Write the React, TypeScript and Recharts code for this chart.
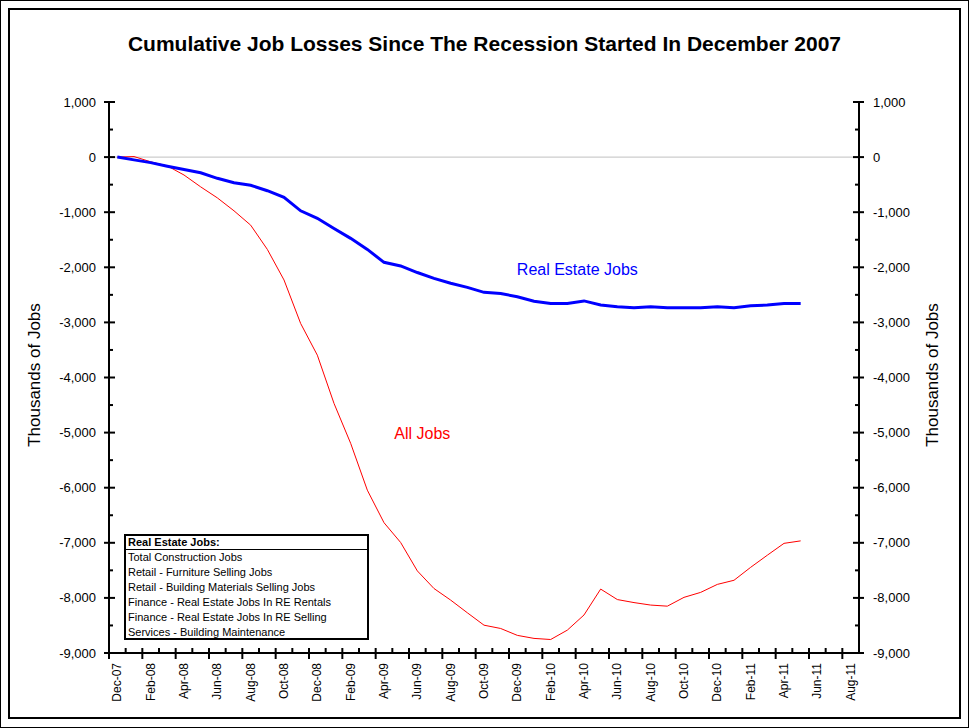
import React from "react";
import { LineChart, Line, XAxis, YAxis, ReferenceLine, ReferenceDot } from "recharts";

const months = [
  "Dec-07", "Jan-08", "Feb-08", "Mar-08", "Apr-08", "May-08", "Jun-08", "Jul-08", "Aug-08", "Sep-08",
  "Oct-08", "Nov-08", "Dec-08", "Jan-09", "Feb-09", "Mar-09", "Apr-09", "May-09", "Jun-09", "Jul-09",
  "Aug-09", "Sep-09", "Oct-09", "Nov-09", "Dec-09", "Jan-10", "Feb-10", "Mar-10", "Apr-10", "May-10",
  "Jun-10", "Jul-10", "Aug-10", "Sep-10", "Oct-10", "Nov-10", "Dec-10", "Jan-11", "Feb-11", "Mar-11",
  "Apr-11", "May-11", "Jun-11", "Jul-11", "Aug-11",
];

// thousands of jobs, cumulative since Dec-07
const realEstateJobs = [
  0, -50, -100, -165, -225, -285, -385, -465, -510, -610,
  -730, -975, -1110, -1295, -1475, -1675, -1910, -1975, -2095, -2200,
  -2290, -2365, -2455, -2475, -2535, -2615, -2655, -2655, -2610, -2685,
  -2715, -2735, -2715, -2735, -2735, -2735, -2715, -2735, -2700, -2685,
  -2655, -2655,
];

const allJobs = [
  0, 10, -85, -160, -325, -540, -740, -975, -1235, -1675,
  -2230, -3020, -3595, -4470, -5195, -6045, -6635, -6995, -7510, -7830,
  -8040, -8270, -8495, -8555, -8680, -8735, -8755, -8585, -8310, -7840,
  -8030, -8085, -8130, -8150, -7990, -7900, -7755, -7680, -7445, -7225,
  -7010, -6965,
];

const yTicks = [
  1000, 500, 0, -500, -1000, -1500, -2000, -2500, -3000, -3500, -4000, -4500, -5000,
  -5500, -6000, -6500, -7000, -7500, -8000, -8500, -9000,
];

const legendLines = [
  "Total Construction Jobs",
  "Retail - Furniture Selling Jobs",
  "Retail - Building Materials Selling Jobs",
  "Finance - Real Estate Jobs In RE Rentals",
  "Finance - Real Estate Jobs In RE Selling",
  "Services - Building Maintenance",
];

const data = realEstateJobs.map((v, i) => ({
  idx: i,
  month: months[i],
  realEstate: v,
  all: allJobs[i],
}));

const FONT = '"Liberation Sans", Arial, sans-serif';
const PLOT_LEFT = 109;
const PLOT_RIGHT = 859;
const PLOT_TOP = 102;
const PLOT_BOTTOM = 653;
const BAND = (PLOT_RIGHT - PLOT_LEFT) / months.length;

const fmt = (v: number) => v.toLocaleString("en-US");

function LeftTick({ x, y, payload }: any) {
  const v = payload.value;
  const major = v % 1000 === 0;
  return (
    <g>
      {major ? (
        <line x1={x - 5} x2={x + 6} y1={y} y2={y} stroke="#000" strokeWidth={2} />
      ) : (
        <line x1={x} x2={x + 4} y1={y} y2={y} stroke="#000" strokeWidth={2} />
      )}
      {major && (
        <text x={x - 13} y={y} textAnchor="end" dominantBaseline="central" fontSize={13} fontFamily={FONT} fill="#000">
          {fmt(v)}
        </text>
      )}
    </g>
  );
}

function RightTick({ x, y, payload }: any) {
  const v = payload.value;
  const major = v % 1000 === 0;
  return (
    <g>
      {major ? (
        <line x1={x - 6} x2={x + 5} y1={y} y2={y} stroke="#000" strokeWidth={2} />
      ) : (
        <line x1={x - 4} x2={x} y1={y} y2={y} stroke="#000" strokeWidth={2} />
      )}
      {major && (
        <text x={x + 14} y={y} textAnchor="start" dominantBaseline="central" fontSize={13} fontFamily={FONT} fill="#000">
          {fmt(v)}
        </text>
      )}
    </g>
  );
}

function MonthTick({ x, y, payload }: any) {
  const i = payload.value;
  const bx = x - BAND / 2;
  const major = i % 2 === 0;
  return (
    <g>
      {major ? (
        <line x1={bx} x2={bx} y1={y - 5} y2={y + 6} stroke="#000" strokeWidth={2} />
      ) : (
        <line x1={bx} x2={bx} y1={y - 5} y2={y} stroke="#000" strokeWidth={2} />
      )}
      {major && (
        <text
          x={x}
          y={y + 10}
          transform={`rotate(-90, ${x}, ${y + 10})`}
          textAnchor="end"
          dominantBaseline="central"
          fontSize={12}
          fontFamily={FONT}
          fill="#000"
        >
          {months[i]}
        </text>
      )}
    </g>
  );
}

export default function App() {
  const xTicks = months.map((_, i) => i);
  return (
    <div style={{ position: "absolute", left: 0, top: 0, width: 969, height: 728, background: "#fff", fontFamily: FONT }}>
      <div style={{ position: "absolute", left: 0, top: 0, width: 969, height: 728, border: "1px solid #000", boxSizing: "border-box" }} />
      <div style={{ position: "absolute", left: 8, top: 8, width: 953, height: 711, border: "2px solid #000", boxSizing: "border-box" }} />
      <div style={{ position: "absolute", left: 0, top: 32, width: 969, textAlign: "center", fontSize: 21, fontWeight: "bold", lineHeight: "24px" }}>
        Cumulative Job Losses Since The Recession Started In December 2007
      </div>
      <div style={{ position: "absolute", left: 35, top: 375, transform: "translate(-50%, -50%) rotate(-90deg)", fontSize: 17, whiteSpace: "nowrap" }}>
        Thousands of Jobs
      </div>
      <div style={{ position: "absolute", left: 933, top: 375, transform: "translate(-50%, -50%) rotate(-90deg)", fontSize: 17, whiteSpace: "nowrap" }}>
        Thousands of Jobs
      </div>
      <div style={{ position: "absolute", left: 0, top: 0 }}>
        <LineChart
          width={969}
          height={728}
          data={data}
          margin={{ top: PLOT_TOP, left: PLOT_LEFT - 60, right: 969 - PLOT_RIGHT - 60, bottom: 728 - PLOT_BOTTOM - 55 }}
        >
          <XAxis
            dataKey="idx"
            type="number"
            domain={[-0.5, months.length - 0.5]}
            ticks={xTicks}
            interval={0}
            allowDataOverflow
            height={55}
            tickSize={0}
            tickMargin={0}
            tickLine={false}
            axisLine={{ stroke: "#000", strokeWidth: 2 }}
            tick={<MonthTick />}
          />
          <YAxis
            yAxisId="left"
            orientation="left"
            width={60}
            domain={[-9000, 1000]}
            ticks={yTicks}
            interval={0}
            allowDataOverflow
            tickSize={0}
            tickMargin={0}
            tickLine={false}
            axisLine={{ stroke: "#000", strokeWidth: 2 }}
            tick={<LeftTick />}
          />
          <YAxis
            yAxisId="right"
            orientation="right"
            width={60}
            domain={[-9000, 1000]}
            ticks={yTicks}
            interval={0}
            allowDataOverflow
            tickSize={0}
            tickMargin={0}
            tickLine={false}
            axisLine={{ stroke: "#000", strokeWidth: 2 }}
            tick={<RightTick />}
          />
          <ReferenceLine yAxisId="left" y={0} stroke="#c0c0c0" strokeWidth={1} />
          <Line yAxisId="left" type="linear" dataKey="all" stroke="#ff0000" strokeWidth={1} dot={false} isAnimationActive={false} />
          <Line yAxisId="left" type="linear" dataKey="realEstate" stroke="#0000ff" strokeWidth={3} dot={false} isAnimationActive={false} />
          <ReferenceDot
            yAxisId="left"
            x={27.6}
            y={-2030}
            r={0}
            stroke="none"
            label={{ value: "Real Estate Jobs", position: "center", fill: "#0000ff", fontSize: 16, fontFamily: FONT }}
          />
          <ReferenceDot
            yAxisId="left"
            x={18.3}
            y={-5010}
            r={0}
            stroke="none"
            label={{ value: "All Jobs", position: "center", fill: "#ff0000", fontSize: 16, fontFamily: FONT }}
          />
        </LineChart>
      </div>
      <div
        style={{
          position: "absolute",
          left: 124,
          top: 534,
          width: 245,
          height: 106,
          border: "2px solid #000",
          boxSizing: "border-box",
          background: "#fff",
          fontSize: 11,
          lineHeight: "15px",
        }}
      >
        <div style={{ fontWeight: "bold", paddingLeft: 2, borderBottom: "1px solid #000", lineHeight: "13px" }}>Real Estate Jobs:</div>
        {legendLines.map((t) => (
          <div key={t} style={{ paddingLeft: 2 }}>
            {t}
          </div>
        ))}
      </div>
    </div>
  );
}
